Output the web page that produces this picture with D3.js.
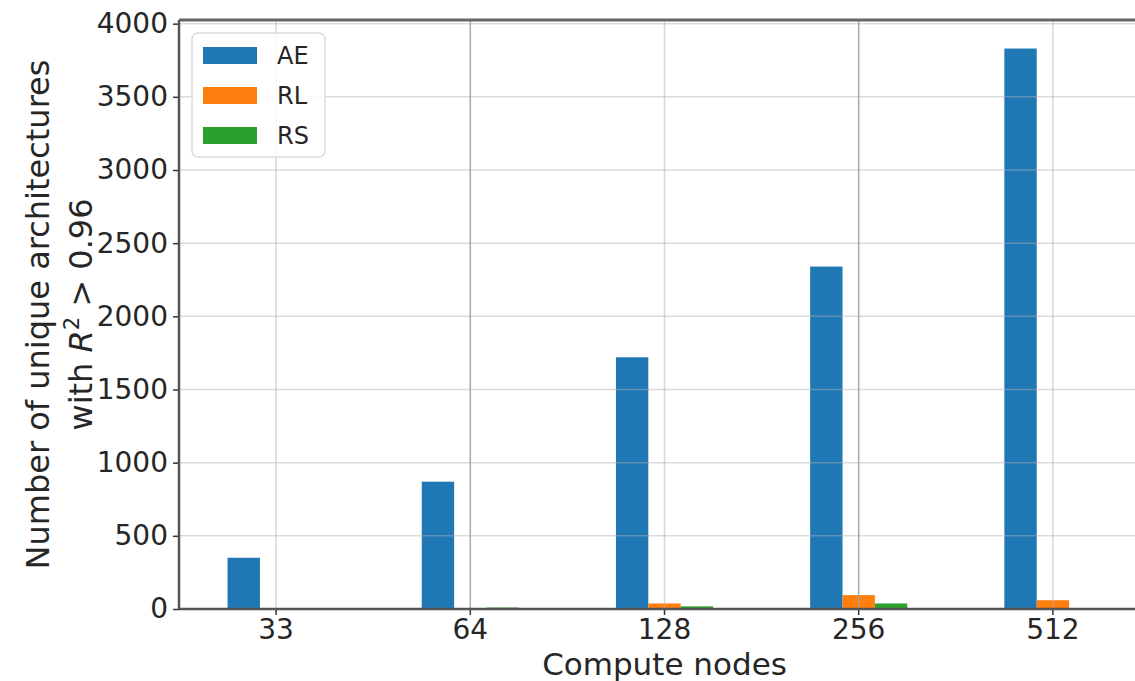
<!DOCTYPE html>
<html>
<head>
<meta charset="utf-8">
<script src="https://cdn.jsdelivr.net/npm/d3@7"></script>
<style>
  html, body { margin: 0; padding: 0; background: #fff; }
  svg { display: block; font-family: "DejaVu Sans", sans-serif; }
</style>
</head>
<body>
<svg id="chart" width="1135" height="681"></svg>
<script>
// ---- data ----
const categories = ["33", "64", "128", "256", "512"];
const seriesNames = ["AE", "RL", "RS"];
const aeValues = [350, 870, 1720, 2340, 3830];
const rlValues = [0, 0, 38, 95, 60];
const rsValues = [0, 10, 18, 38, 0];
const yTicks = [0, 500, 1000, 1500, 2000, 2500, 3000, 3500, 4000];
const colors = ["#1f77b4", "#ff7f0e", "#2ca02c"];

const seriesValues = [aeValues, rlValues, rsValues];

(function () {
// ---- layout ----
const pLeft = 179, pRight = 1150, pTop = 20, pBottom = 609;
const svg = d3.select("#chart");

const x0 = d3.scaleBand().domain(categories).range([pLeft, pRight]).paddingInner(0).paddingOuter(0);
const step = x0.bandwidth();
const x1 = d3.scaleBand().domain(seriesNames).range([-0.25 * step, 0.25 * step]).padding(0);
const y = d3.scaleLinear().domain([0, 4025]).range([pBottom, pTop]);
const cx = c => x0(c) + step / 2;

// bars
const barData = [];
seriesNames.forEach((s, si) => {
  categories.forEach((c, ci) => {
    barData.push({ s, si, c, v: seriesValues[si][ci] });
  });
});
svg.append("g").selectAll("rect").data(barData).join("rect")
  .attr("x", d => cx(d.c) + x1(d.s))
  .attr("width", x1.bandwidth())
  .attr("y", d => y(d.v))
  .attr("height", d => y(0) - y(d.v))
  .attr("fill", d => colors[d.si]);

// grid (above bars, like matplotlib)
const grid = svg.append("g");
grid.selectAll("line.h").data(yTicks.slice(1)).join("line")
  .attr("class", "h")
  .attr("x1", pLeft).attr("x2", pRight)
  .attr("y1", d => y(d)).attr("y2", d => y(d))
  .attr("stroke", "#b0b0b0").attr("stroke-opacity", 0.45).attr("stroke-width", 1.5);
grid.selectAll("line.v").data(categories).join("line")
  .attr("class", "v")
  .attr("x1", d => cx(d)).attr("x2", d => cx(d))
  .attr("y1", pTop).attr("y2", pBottom)
  .attr("stroke", (d, i) => i % 2 === 1 ? "#a0a0a0" : "#b0b0b0")
  .attr("stroke-opacity", (d, i) => i % 2 === 1 ? 0.9 : 0.5)
  .attr("stroke-width", 1.5);

// axes
const yAxis = svg.append("g").attr("transform", `translate(${pLeft},0)`)
  .call(d3.axisLeft(y).tickValues(yTicks).tickSize(6).tickPadding(5).tickFormat(d3.format("d")));
const xAxis = svg.append("g").attr("transform", `translate(0,${pBottom})`)
  .call(d3.axisBottom(x0).tickSize(6).tickPadding(4));
[yAxis, xAxis].forEach(a => {
  a.select(".domain").remove();
  a.selectAll(".tick line").attr("stroke", "#333").attr("stroke-width", 1.5);
  a.selectAll(".tick text").attr("fill", "#262626").style("font-size", "28px")
    .style("font-family", "DejaVu Sans, sans-serif");
});
xAxis.selectAll(".tick text").attr("dy", "0.72em");

// spines
const sp = svg.append("g").attr("fill", "none").attr("stroke", "#555");
sp.append("line").attr("x1", pLeft).attr("x2", pLeft).attr("y1", pTop).attr("y2", pBottom).attr("stroke-width", 2.5);
sp.append("line").attr("x1", pLeft).attr("x2", 1135).attr("y1", pBottom).attr("y2", pBottom).attr("stroke-width", 2.5);
sp.append("line").attr("x1", pLeft).attr("x2", 1135).attr("y1", pTop).attr("y2", pTop).attr("stroke-width", 3).attr("stroke", "#666");

// axis labels
svg.append("text")
  .attr("x", (pLeft + pRight) / 2).attr("y", 675)
  .attr("text-anchor", "middle").attr("fill", "#262626")
  .style("font-size", "31px").text("Compute nodes");

const yl = svg.append("text")
  .attr("transform", `translate(0,${(pTop + pBottom) / 2}) rotate(-90)`)
  .attr("text-anchor", "middle").attr("fill", "#262626")
  .style("font-size", "32px");
yl.append("tspan").attr("x", 0).attr("y", 49).text("Number of unique architectures");
const l2 = yl.append("tspan").attr("x", 0).attr("y", 92);
l2.append("tspan").text("with ");
l2.append("tspan").style("font-style", "italic").text("R");
l2.append("tspan").attr("dy", -13).style("font-size", "21px").text("2");
l2.append("tspan").attr("dy", 13).text(" > 0.96");

// legend
const lg = svg.append("g");
lg.append("rect").attr("x", 192).attr("y", 33).attr("width", 133).attr("height", 124)
  .attr("rx", 6).attr("fill", "#fff").attr("fill-opacity", 0.85)
  .attr("stroke", "#dadada").attr("stroke-width", 1.5);
const items = lg.selectAll("g.item").data(seriesNames).join("g")
  .attr("transform", (d, i) => `translate(203,${47 + i * 40})`);
items.append("rect").attr("width", 54).attr("height", 17).attr("fill", (d, i) => colors[i]);
items.append("text").attr("x", 74).attr("y", 17).attr("fill", "#262626")
  .style("font-size", "24px").text(d => d);
})();
</script>
</body>
</html>
